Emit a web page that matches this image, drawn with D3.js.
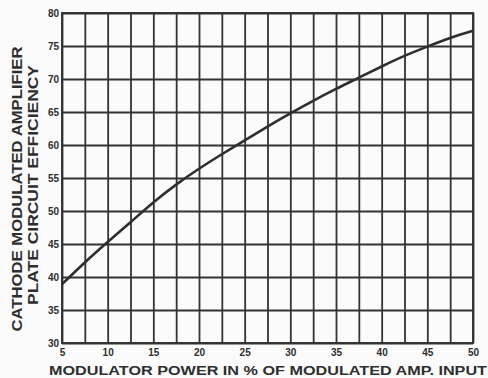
<!DOCTYPE html>
<html>
<head>
<meta charset="utf-8">
<script src="https://cdn.jsdelivr.net/npm/d3@7"></script>
<style>
  html, body { margin: 0; padding: 0; background: #fbfbfb; }
  svg { display: block; }
  text { font-family: "Liberation Sans", Arial, sans-serif; font-weight: bold; fill: #2e2e2e; }
</style>
</head>
<body>
<svg id="chart" width="488" height="378"></svg>
<script>
// Modulator power (% of modulated amplifier input)
const modulatorPower = [5, 7.5, 10, 12.5, 15, 17.5, 20, 22.5, 25, 27.5, 30, 32.5, 35, 37.5, 40, 42.5, 45, 47.5, 50];
// Cathode modulated amplifier plate circuit efficiency (%)
const efficiency = [38.9, 42.2, 45.3, 48.3, 51.3, 54.0, 56.4, 58.6, 60.7, 62.8, 64.8, 66.7, 68.5, 70.2, 71.9, 73.5, 74.9, 76.2, 77.3];

const xTicks = [5, 10, 15, 20, 25, 30, 35, 40, 45, 50];
const yTicks = [30, 35, 40, 45, 50, 55, 60, 65, 70, 75, 80];
const xGrid = d3.range(5, 50.01, 2.5);

const xTitle = "MODULATOR POWER IN % OF MODULATED AMP. INPUT";
const yTitle1 = "CATHODE MODULATED AMPLIFIER";
const yTitle2 = "PLATE CIRCUIT EFFICIENCY";

const svg = d3.select("#chart");
const ink = "#333";

const x = d3.scaleLinear().domain([5, 50]).range([62, 473]);
const y = d3.scaleLinear().domain([30, 80]).range([343, 13]);

// vertical grid lines every 2.5 units
svg.append("g")
  .attr("transform", `translate(0,${y(30)})`)
  .call(d3.axisBottom(x).tickValues(xGrid).tickSize(-(y(30) - y(80))).tickFormat(""))
  .call(g => g.select(".domain").remove())
  .call(g => g.selectAll("line").attr("stroke", ink).attr("stroke-width", 1.8));

// horizontal grid lines every 5 units
svg.append("g")
  .attr("transform", `translate(${x(5)},0)`)
  .call(d3.axisLeft(y).tickValues(yTicks).tickSize(-(x(50) - x(5))).tickFormat(""))
  .call(g => g.select(".domain").remove())
  .call(g => g.selectAll("line").attr("stroke", ink).attr("stroke-width", 1.8));

// frame
svg.append("rect")
  .attr("x", x(5)).attr("y", y(80))
  .attr("width", x(50) - x(5)).attr("height", y(30) - y(80))
  .attr("fill", "none").attr("stroke", ink).attr("stroke-width", 1.9);

// tick labels
svg.append("g")
  .attr("transform", `translate(0,${y(30)})`)
  .call(d3.axisBottom(x).tickValues(xTicks).tickSize(0).tickPadding(4))
  .call(g => g.select(".domain").remove())
  .call(g => g.selectAll("text")
    .attr("font-size", 10).attr("font-family", "Liberation Sans, Arial, sans-serif")
    .attr("font-weight", "bold").attr("fill", "#2e2e2e").attr("dy", "0.9em"));

svg.append("g")
  .attr("transform", `translate(${x(5)},0)`)
  .call(d3.axisLeft(y).tickValues(yTicks).tickSize(0).tickPadding(3))
  .call(g => g.select(".domain").remove())
  .call(g => g.selectAll("text")
    .attr("font-size", 10).attr("font-family", "Liberation Sans, Arial, sans-serif")
    .attr("font-weight", "bold").attr("fill", "#2e2e2e"));

// efficiency curve
const line = d3.line()
  .x((d, i) => x(modulatorPower[i]))
  .y(d => y(d))
  .curve(d3.curveNatural);

svg.append("path")
  .datum(efficiency)
  .attr("d", line)
  .attr("fill", "none")
  .attr("stroke", "#2e2e2e")
  .attr("stroke-width", 2.6);

// axis titles
svg.append("text")
  .attr("x", 268).attr("y", 375)
  .attr("text-anchor", "middle")
  .attr("font-size", 13.5)
  .attr("textLength", 438).attr("lengthAdjust", "spacingAndGlyphs")
  .text(xTitle);

svg.append("text")
  .attr("transform", "translate(22,189) rotate(-90)")
  .attr("text-anchor", "middle")
  .attr("font-size", 14)
  .attr("textLength", 285).attr("lengthAdjust", "spacingAndGlyphs")
  .text(yTitle1);

svg.append("text")
  .attr("transform", "translate(38,185) rotate(-90)")
  .attr("text-anchor", "middle")
  .attr("font-size", 14)
  .attr("textLength", 240).attr("lengthAdjust", "spacingAndGlyphs")
  .text(yTitle2);
</script>
</body>
</html>
